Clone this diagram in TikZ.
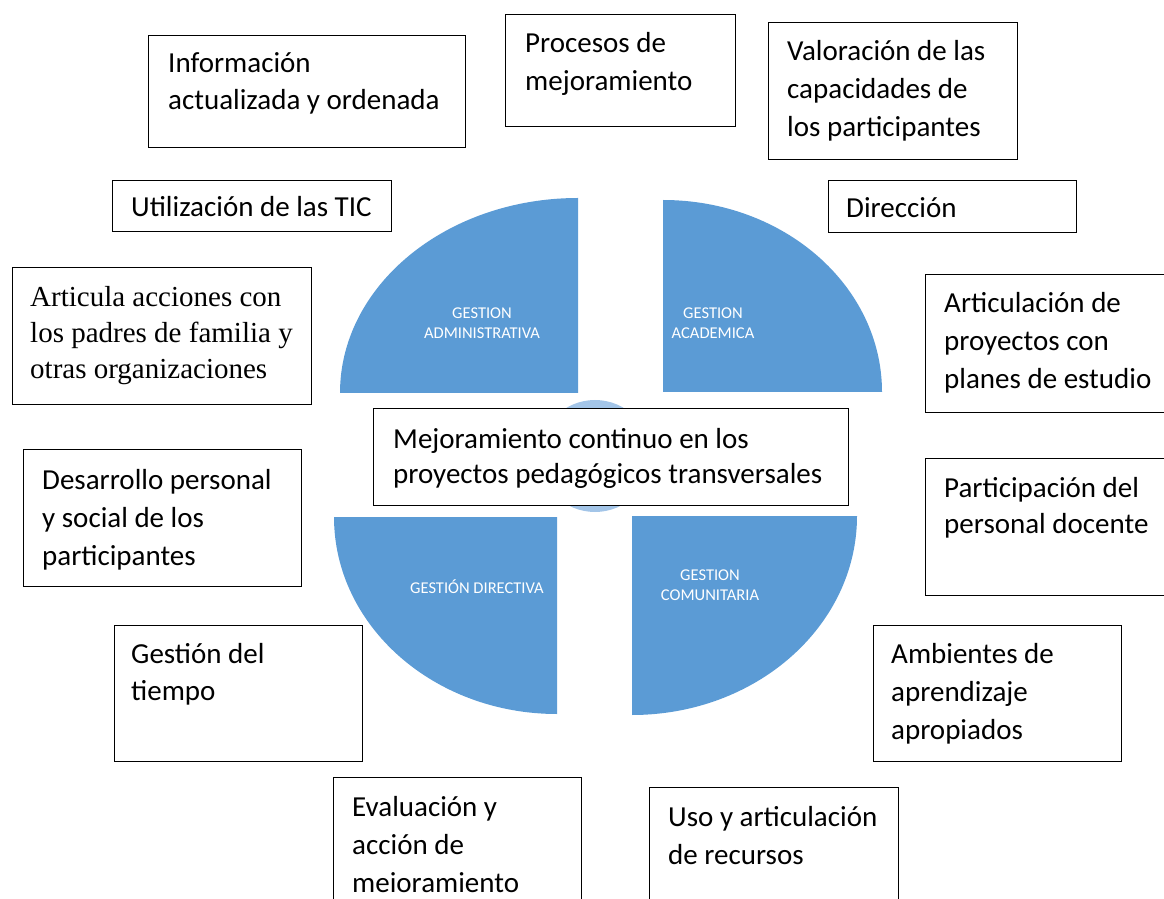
\documentclass[tikz,border=0pt]{standalone}
\usepackage{fontspec}
\setmainfont{Carlito}
\newfontfamily\tnr{Liberation Serif}
\definecolor{qblue}{HTML}{5B9BD5}
\definecolor{cblue}{HTML}{A3C5E8}
\begin{document}
\begin{tikzpicture}[x=1pt,y=1pt,
  box/.style={draw=black,line width=1.4pt,inner sep=0pt,anchor=north west,fill=white},
  txt/.style={anchor=base west,inner sep=0pt,align=left,font=\fontsize{29}{38}\selectfont},
  qlab/.style={text=white,align=center,font=\fontsize{16.5}{20}\selectfont}]
\useasboundingbox (0,0) rectangle (1164,898);
% quadrants
\fill[qblue] (578,505) -- (340,505) arc[start angle=180,end angle=90,x radius=238pt,y radius=195pt] -- cycle;
\fill[qblue] (663,506) -- (663,698) arc[start angle=90,end angle=0,x radius=219pt,y radius=192pt] -- cycle;
\fill[qblue] (557,381) -- (334,381) arc[start angle=180,end angle=270,x radius=223pt,y radius=197pt] -- cycle;
\fill[qblue] (632,382) -- (857,382) arc[start angle=0,end angle=-90,x radius=225pt,y radius=199pt] -- cycle;
\fill[cblue] (595,442) circle[radius=56pt];
\node[qlab] (q1) at (482,575) {GESTION\\ADMINISTRATIVA};
\node[qlab] (q2) at (713,575) {GESTION\\ACADEMICA};
\node[qlab] (q3) at (477,311) {GESTIÓN DIRECTIVA};
\node[qlab] (q4) at (710,313) {GESTION\\COMUNITARIA};
% boxes
\node[box,minimum width=317pt,minimum height=112pt] (b1) at (148,863) {};
\node[box,minimum width=230pt,minimum height=112pt] (b2) at (505,884) {};
\node[box,minimum width=249pt,minimum height=137pt] (b3) at (768,876) {};
\node[box,minimum width=279pt,minimum height=51pt] (b4) at (112,718) {};
\node[box,minimum width=248pt,minimum height=52pt] (b5) at (828,718) {};
\node[box,minimum width=299pt,minimum height=137pt] (b6) at (12,631) {};
\node[box,minimum width=250pt,minimum height=138pt] (b7) at (925,624) {};
\node[box,minimum width=475pt,minimum height=97pt] (b8) at (373,490) {};
\node[box,minimum width=278pt,minimum height=137pt] (b9) at (23,449) {};
\node[box,minimum width=250pt,minimum height=137pt] (b10) at (925,440) {};
\node[box,minimum width=248pt,minimum height=136pt] (b11) at (114,273) {};
\node[box,minimum width=248pt,minimum height=136pt] (b12) at (873,273) {};
\node[box,minimum width=248pt,minimum height=133pt] (b13) at (333,121) {};
\node[box,minimum width=249pt,minimum height=123pt] (b14) at (649,111) {};
% texts (base anchor = baseline of last line)
\node[txt,font=\fontsize{29}{37}\selectfont] (t1) at (168,788) {Información\\actualizada y ordenada};
\node[txt] (t2) at (525,807) {Procesos de\\mejoramiento};
\node[txt] (t3) at (787,761) {Valoración de las\\capacidades de\\los participantes};
\node[txt] (t4) at (131,681) {Utilización de las TIC};
\node[txt] (t5) at (846,680) {Dirección};
\node[txt,font=\tnr\fontsize{29}{36}\selectfont] (t6) at (30,519) {Articula acciones con\\los padres de familia y\\otras organizaciones};
\node[txt] (t7) at (944,509) {Articulación de\\proyectos con\\planes de estudio};
\node[txt,font=\fontsize{29}{35}\selectfont] (t8) at (393,415) {Mejoramiento continuo en los\\proyectos pedagógicos transversales};
\node[txt] (t9) at (42,333) {Desarrollo personal\\y social de los\\participantes};
\node[txt,font=\fontsize{29}{36}\selectfont] (t10) at (944,365) {Participación del\\personal docente};
\node[txt,font=\fontsize{29}{37}\selectfont] (t11) at (131,198) {Gestión del\\tiempo};
\node[txt] (t12) at (891,159) {Ambientes de\\aprendizaje\\apropiados};
\node[txt] (t13) at (352,6) {Evaluación y\\acción de\\meioramiento};
\node[txt] (t14) at (668,34) {Uso y articulación\\de recursos};
\end{tikzpicture}
\end{document}
